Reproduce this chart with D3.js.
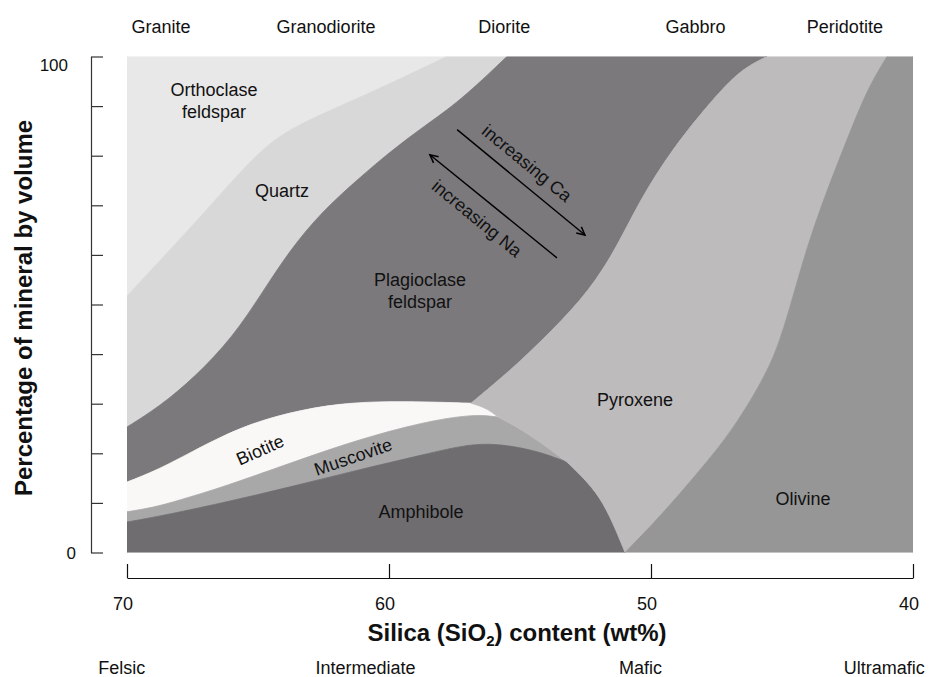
<!DOCTYPE html>
<html>
<head>
<meta charset="utf-8">
<script src="https://cdn.jsdelivr.net/npm/d3@7"></script>
<style>
  html, body { margin: 0; padding: 0; background: #fff; }
  svg { display: block; font-family: "Liberation Sans", Arial, Helvetica, sans-serif; }
</style>
</head>
<body>
<svg id="chart" width="931" height="677"></svg>
<script>
// ---------------- DATA (silica wt%, percent by volume) ----------------
const silicaTicks = [70, 60, 50, 40];
const percentTicks = [0, 10, 20, 30, 40, 50, 60, 70, 80, 90, 100];
const percentTickLabels = [0, 100];

const rockNames  = ["Granite", "Granodiorite", "Diorite", "Gabbro", "Peridotite"];
const rockSilica = [68.7, 62.4, 55.6, 48.3, 42.6];
const classNames  = ["Felsic", "Intermediate", "Mafic", "Ultramafic"];
const classSilica = [70.2, 60.9, 50.4, 41.1];

// boundary curves [silica, percent]
const orthoQuartz  = [[70,51.7],[68.47,60.4],[66.95,69.1],[65.69,76.7],[64.54,82.8],[63.4,86.4],[61.87,90.0],[59.96,94.5],[57.79,100]];
const quartzPlag   = [[70,25.3],[68.74,29.5],[67.4,35.4],[65.95,43.5],[64.85,52.3],[63.78,61.0],[62.56,68.7],[61.22,75.1],[59.96,80.8],[58.7,85.8],[57.29,91.0],[55.5,100]];
const plagPyroxene = [[45.57,100],[46.6,97.3],[47.67,91.2],[49.16,81.6],[50.42,71.1],[51.3,61.6],[52.33,52.9],[53.78,44.7],[55.38,36.6],[56.87,30.1]];
const biotiteTopA  = [[70,14.2],[68.85,16.6],[67.6,20.1],[65.69,25.3],[63.78,28.3],[61.87,30.1],[59.96,30.5],[58.05,30.3],[56.87,30.1]];
const biotiteTopB  = [[56.87,30.1],[56.26,29.1],[55.84,27.3]];
const biotiteMusc  = [[70,8.2],[68.85,9.2],[67.6,11.2],[66.34,13.2],[63.78,18.0],[61.22,22.7],[58.7,26.3],[56.79,27.9],[55.84,27.3]];
const muscPyroxene = [[55.84,27.3],[55.11,25.3],[54.24,22.3],[53.59,19.7],[53.21,18.25]];
const muscAmph     = [[70,6.15],[68.85,7.2],[66.34,10.0],[63.78,13.2],[61.22,16.6],[58.7,19.7],[56.79,22.1],[55.5,21.7],[54.24,20.3],[53.21,18.25]];
const amphPyroxene = [[53.21,18.25],[52.6,15.2],[51.95,11.2],[51.45,5.95],[50.99,0]];
const pyroxOlivine = [[40.99,100],[41.76,93.3],[42.52,83.2],[43.28,73.1],[44.05,61.6],[44.69,49.5],[45.08,42.8],[45.57,36.2],[46.87,24.7],[48.13,16.6],[49.66,7.2],[50.99,0]];

const mineralNames  = ["Orthoclase", "Quartz", "Plagioclase", "Biotite", "Muscovite", "Amphibole", "Pyroxene", "Olivine"];
const mineralColors = ["#e8e8e8", "#d9d8d8", "#7b797c", "#f9f8f6", "#a9a8a9", "#6f6d70", "#bdbbbc", "#969696"];

// label anchors [silica, percent]
const labelText  = [["Orthoclase","feldspar"], ["Quartz"], ["Plagioclase","feldspar"], ["Biotite"], ["Muscovite"], ["Amphibole"], ["Pyroxene"], ["Olivine"], ["increasing Ca"], ["increasing Na"]];
const labelPos   = [[66.68,92.0], [64.08,71.7], [58.82,53.7], [64.92,20.7], [61.37,19.3], [58.78,7.0], [50.61,29.5], [44.2,9.6], [54.73,78.5], [56.64,67.4]];
const labelAngle = [0, 0, 0, -24, -19, 0, 0, 0, 39.4, 39.4];

const arrowCa = [[57.4,85.25],[52.52,64.0]];
const arrowNa = [[53.59,59.4],[58.44,80.2]];

// ---------------- CHART ----------------
const svg = d3.select("#chart");
const x = d3.scaleLinear().domain([70, 40]).range([127, 913]);
const y = d3.scaleLinear().domain([0, 100]).range([552.5, 56.5]);

const rev = a => a.slice().reverse();
const line = d3.line().x(d => x(d[0])).y(d => y(d[1])).curve(d3.curveBasis);
function poly(parts) {
  let s = "";
  parts.forEach((p, i) => {
    let d;
    if (p.length === 1) d = "M" + x(p[0][0]) + "," + y(p[0][1]);
    else d = line(p);
    s += (i === 0 ? d : "L" + d.slice(1));
  });
  return s + "Z";
}

const regions = [
  [orthoQuartz, [[70,100]]],
  [quartzPlag, rev(orthoQuartz)],
  [biotiteTopA, rev(plagPyroxene), rev(quartzPlag)],
  [biotiteTopA, biotiteTopB, rev(biotiteMusc)],
  [biotiteMusc, muscPyroxene, rev(muscAmph)],
  [muscAmph, amphPyroxene, [[70,0]]],
  [plagPyroxene, biotiteTopB, muscPyroxene, amphPyroxene, rev(pyroxOlivine)],
  [pyroxOlivine, [[40,0]], [[40,100]]]
];

const defs = svg.append("defs");
defs.append("clipPath").attr("id", "plotClip")
  .append("rect").attr("x", x(70)).attr("y", y(100)).attr("width", x(40) - x(70)).attr("height", y(0) - y(100));

defs.append("marker").attr("id", "arrow")
  .attr("viewBox", "-10 -6 12 12").attr("refX", 0).attr("refY", 0)
  .attr("markerWidth", 12).attr("markerHeight", 12).attr("markerUnits", "userSpaceOnUse")
  .attr("orient", "auto")
  .append("path").attr("d", "M-8,-4L0,0L-8,4").attr("fill", "none").attr("stroke", "#000").attr("stroke-width", 1.5);

const plot = svg.append("g").attr("clip-path", "url(#plotClip)");
plot.selectAll("path.region").data(regions).join("path")
  .attr("class", "region")
  .attr("d", d => poly(d))
  .attr("fill", (d, i) => mineralColors[i])
  .attr("stroke", (d, i) => mineralColors[i])
  .attr("stroke-width", 0.8)
  .attr("stroke-linejoin", "round");

// arrows
[arrowCa, arrowNa].forEach(a => {
  svg.append("line")
    .attr("x1", x(a[0][0])).attr("y1", y(a[0][1]))
    .attr("x2", x(a[1][0])).attr("y2", y(a[1][1]))
    .attr("stroke", "#000").attr("stroke-width", 1.4)
    .attr("marker-end", "url(#arrow)");
});

// labels
labelText.forEach((lines, i) => {
  const px = x(labelPos[i][0]), py = y(labelPos[i][1]);
  const t = svg.append("text")
    .attr("text-anchor", "middle")
    .attr("font-size", 18)
    .attr("fill", "#111");
  if (labelAngle[i] !== 0) {
    t.attr("transform", `translate(${px},${py}) rotate(${labelAngle[i]})`).attr("dy", "0.35em").text(lines[0]);
  } else {
    lines.forEach((ln, k) => {
      t.append("tspan").attr("x", px).attr("y", py + k * 21.5).text(ln);
    });
  }
});

// y axis
const yAxis = d3.axisRight(y).tickValues(percentTicks).tickSize(12).tickSizeOuter(0).tickFormat("");
const yg = svg.append("g").attr("transform", "translate(91,0)").call(yAxis);
yg.selectAll("path, line").attr("stroke", "#333").attr("stroke-width", 1.2);

svg.selectAll("text.ytl").data(percentTickLabels).join("text")
  .attr("class", "ytl")
  .attr("x", d => d === 100 ? 68 : 76)
  .attr("y", d => d === 100 ? y(d) + 14 : y(d) + 6)
  .attr("text-anchor", "end")
  .attr("font-size", 17)
  .attr("fill", "#111")
  .text(d => d);

svg.append("text")
  .attr("transform", `translate(32,${y(49.3)}) rotate(-90)`)
  .attr("text-anchor", "middle")
  .attr("font-size", 24)
  .attr("font-weight", "bold")
  .attr("fill", "#111")
  .text("Percentage of mineral by volume");

// x axis
const xAxis = d3.axisTop(x).tickValues(silicaTicks).tickSize(14).tickSizeOuter(0).tickFormat("");
const xg = svg.append("g").attr("transform", "translate(0,578)").call(xAxis);
xg.selectAll("path, line").attr("stroke", "#111").attr("stroke-width", 1.2);

svg.selectAll("text.xtl").data(silicaTicks).join("text")
  .attr("class", "xtl")
  .attr("x", d => x(d) - 4)
  .attr("y", 610)
  .attr("text-anchor", "middle")
  .attr("font-size", 18)
  .attr("fill", "#111")
  .text(d => d);

const xt = svg.append("text")
  .attr("x", 517).attr("y", 641)
  .attr("text-anchor", "middle")
  .attr("font-size", 24)
  .attr("font-weight", "bold")
  .attr("fill", "#111");
xt.append("tspan").text("Silica (SiO");
xt.append("tspan").attr("font-size", 15).attr("dy", 5).text("2");
xt.append("tspan").attr("dy", -5).text(") content (wt%)");

// rock names on top
svg.selectAll("text.rock").data(rockNames).join("text")
  .attr("class", "rock")
  .attr("x", (d, i) => x(rockSilica[i]))
  .attr("y", 33)
  .attr("text-anchor", "middle")
  .attr("font-size", 18)
  .attr("fill", "#111")
  .text(d => d);

// composition classes at bottom
svg.selectAll("text.cls").data(classNames).join("text")
  .attr("class", "cls")
  .attr("x", (d, i) => x(classSilica[i]))
  .attr("y", 674)
  .attr("text-anchor", "middle")
  .attr("font-size", 18)
  .attr("fill", "#111")
  .text(d => d);
</script>
</body>
</html>
